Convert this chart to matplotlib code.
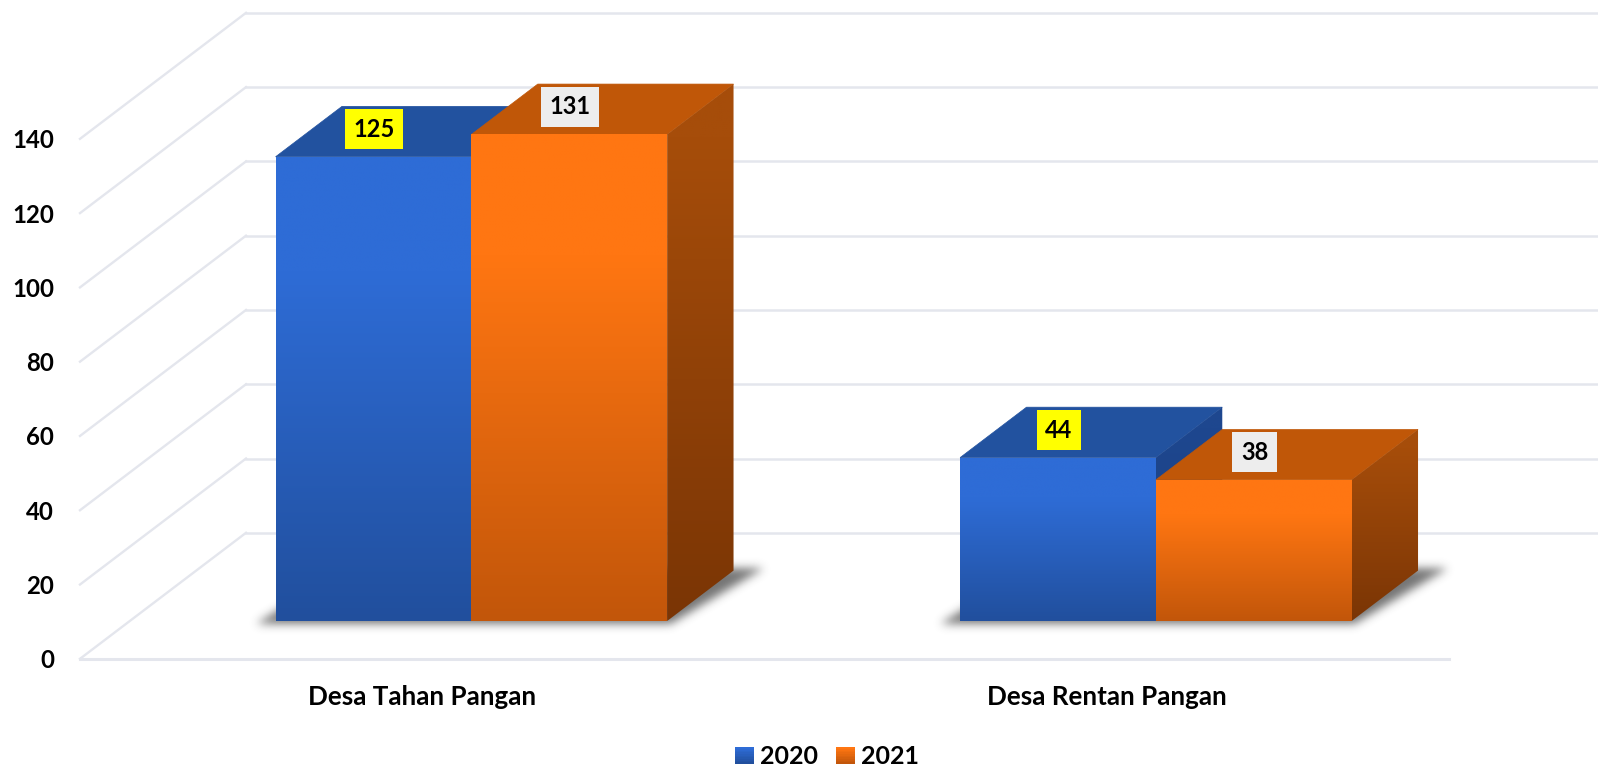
import numpy as np
import matplotlib
matplotlib.use('Agg')
import matplotlib.pyplot as plt
from matplotlib.colors import LinearSegmentedColormap, to_rgb
from matplotlib.legend_handler import HandlerBase
from matplotlib.patches import Patch, Polygon, Rectangle
from matplotlib.path import Path

plt.rcParams['font.family'] = ['Lato', 'DejaVu Sans']
plt.rcParams['font.weight'] = 'bold'

categories = ['Desa Tahan Pangan', 'Desa Rentan Pangan']
years = ['2020', '2021']
values_2020 = [125, 44]
values_2021 = [131, 38]
y_ticks = [0, 20, 40, 60, 80, 100, 120, 140]

W, H = 1598, 769
PX_CAT = 684.5       # pixels per category
PX_VAL = 3.714       # pixels per value unit
DX = 166 / PX_CAT    # how far the full floor depth shifts x
DY = 126 / PX_VAL    # and y
BAR_W = 0.286
BAR_SHIFT = -0.001
D_FRONT, D_BACK = 0.30, 0.70

blue = dict(top='#22529F', light='#2E6CD6', dark='#214F9D', s_top='#1E478F', s_bot='#1B3F80')
orange = dict(top='#C05708', light='#FF7612', dark='#C2560A', s_top='#A64D0A', s_bot='#7A3505')
label_bg = ['#FFFF00', '#EDEDED']

fig = plt.figure(figsize=(W / 100, H / 100), dpi=100)
ax = fig.add_axes([80 / W, 1 - 658.8 / H, 2 * PX_CAT / W, 140 * PX_VAL / H])
for s in ax.spines.values():
    s.set_visible(False)
ax.patch.set_alpha(0)


def pt(x, v, d):
    return (x + d * DX, v + d * DY)


def grad_face(pts, c_top, c_bot, z, stop=0.75):
    # polygon filled with a vertical gradient
    cmap = LinearSegmentedColormap.from_list('g', [(0, c_bot), (stop, c_top), (1, c_top)])
    poly = Polygon(pts, closed=True, fc='none', ec='none', clip_on=False)
    ax.add_patch(poly)
    xs, ys = zip(*pts)
    im = ax.imshow(np.linspace(0, 1, 256).reshape(-1, 1), cmap=cmap, origin='lower', aspect='auto',
                   extent=(min(xs), max(xs), min(ys), max(ys)), zorder=z, interpolation='bilinear')
    im.set_clip_box(fig.bbox)
    im.set_clip_path(poly)


def blur(a, sigma):
    r = int(3 * sigma)
    k = np.exp(-0.5 * (np.arange(-r, r + 1) / sigma) ** 2)
    k = k / k.sum()
    a = np.apply_along_axis(lambda c: np.convolve(c, k, mode='same'), 0, a)
    return np.apply_along_axis(lambda c: np.convolve(c, k, mode='same'), 1, a)


def soft_shadow(pts, z):
    # blurred grey polygon, rastered at about screen resolution
    xs, ys = zip(*pts)
    m = 0.05
    ext = (min(xs) - m, max(xs) + m, min(ys) - 5, max(ys) + 5)
    nx = int((ext[1] - ext[0]) * PX_CAT)
    ny = int((ext[3] - ext[2]) * PX_VAL)
    gx, gy = np.meshgrid(np.linspace(ext[0], ext[1], nx), np.linspace(ext[2], ext[3], ny))
    inside = Path(pts).contains_points(np.c_[gx.ravel(), gy.ravel()]).reshape(gx.shape)
    rgba = np.zeros((ny, nx, 4))
    rgba[..., :3] = 0.25
    rgba[..., 3] = blur(inside.astype(float), 4.5) * 0.72
    im = ax.imshow(rgba, origin='lower', aspect='auto', extent=ext, zorder=z, interpolation='bilinear')
    im.set_clip_box(fig.bbox)


class GradHandler(HandlerBase):
    # legend square with the same light to dark fade as the bars
    def create_artists(self, legend, orig, xd, yd, width, height, fontsize, trans):
        c0, c1 = np.array(to_rgb(orig.get_facecolor())), np.array(to_rgb(orig.get_edgecolor()))
        n = 10
        out = []
        for k in range(n):
            col = c0 + (c1 - c0) * (n - 1 - k) / (n - 1)
            out.append(Rectangle((-xd, -yd + height * k / n), width, height / n + 0.2, fc=col, ec='none',
                                 transform=trans))
        return out


# grid
grid_c = '#E4E6ED'
for v in y_ticks:
    ax.plot([-0.5, -0.5 + DX], [v, v + DY], color=grid_c, lw=1.7, clip_on=False, zorder=1)
    ax.plot([-0.5 + DX, 1.5 + DX], [v + DY, v + DY], color=grid_c, lw=1.8, clip_on=False, zorder=1)
ax.plot([-0.5, 1.5], [0, 0], color=grid_c, lw=2.2, clip_on=False, zorder=1)

# shadows under each pair
for i in range(len(categories)):
    x0, x1 = i - BAR_W + BAR_SHIFT, i + BAR_W + BAR_SHIFT
    sh = [pt(x0 - 0.03, -1.0, D_FRONT), pt(x1 + 0.004, -1.0, D_FRONT),
          pt(x1 + 0.04, 0, D_BACK + 0.02), pt(x0, 0, D_BACK)]
    soft_shadow(sh, 2)

# bars, back to front so 2021 covers 2020
z = 3
for i in range(len(categories)):
    for j, (vals, c) in enumerate([(values_2020, blue), (values_2021, orange)]):
        x0 = i + (j - 1) * BAR_W + BAR_SHIFT
        x1 = x0 + BAR_W
        v = vals[i]
        top = [pt(x0, v, D_FRONT), pt(x1, v, D_FRONT), pt(x1, v, D_BACK), pt(x0, v, D_BACK)]
        ax.add_patch(Polygon(top, closed=True, fc=c['top'], ec=c['top'], lw=0.5, clip_on=False, zorder=z))
        side = [pt(x1, 0, D_FRONT), pt(x1, 0, D_BACK), pt(x1, v, D_BACK), pt(x1, v, D_FRONT)]
        grad_face(side, c['s_top'], c['s_bot'], z, stop=0.9)
        front = [pt(x0, 0, D_FRONT), pt(x1, 0, D_FRONT), pt(x1, v, D_FRONT), pt(x0, v, D_FRONT)]
        grad_face(front, c['light'], c['dark'], z + 0.5)
        z += 1

# value labels
for i in range(len(categories)):
    for j, vals in enumerate([values_2020, values_2021]):
        x = i + (j - 0.5) * BAR_W
        ax.annotate(str(vals[i]), xy=pt(x, vals[i], D_FRONT), xytext=(0, 19.8), textcoords='offset points',
                    ha='center', va='center', fontsize=17, color='black', annotation_clip=False, zorder=20,
                    bbox=dict(boxstyle='square,pad=0.36', fc=label_bg[j], ec='none'))

ax.set_xlim(-0.5, 1.5)
ax.set_ylim(0, 140)
ax.set_xticks(range(len(categories)))
ax.set_xticklabels(categories)
ax.set_yticks(y_ticks)
ax.tick_params(axis='x', length=0, pad=19, labelsize=18.7)
ax.tick_params(axis='y', length=0, pad=18.5, labelsize=17.3)

handles = [Patch(fc=blue['light'], ec=blue['dark']), Patch(fc=orange['light'], ec=orange['dark'])]
ax.legend(handles, years, loc='center', bbox_to_anchor=(827 / W, 1 - 757 / H), bbox_transform=fig.transFigure,
          ncol=2, frameon=False, fontsize=18, handlelength=0.76, handleheight=0.64, handletextpad=0.26,
          columnspacing=0.72, borderpad=0, borderaxespad=0, handler_map={Patch: GradHandler()})

fig.savefig('out.png', dpi=100)
